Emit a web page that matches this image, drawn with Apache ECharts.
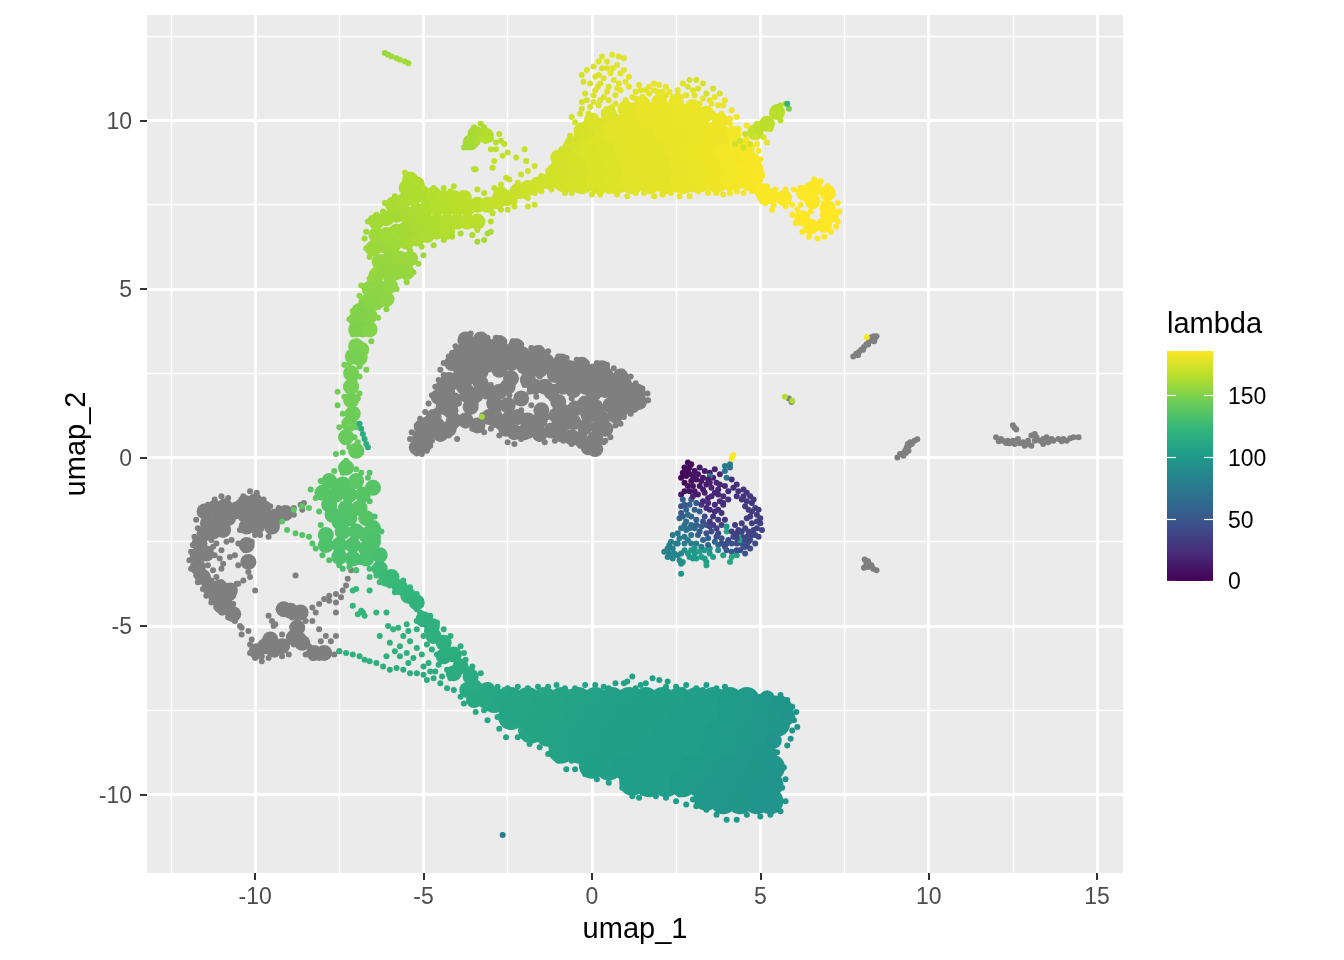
<!DOCTYPE html>
<html><head><meta charset="utf-8">
<style>html,body{margin:0;padding:0;background:#fff}#c{width:1344px;height:960px}</style>
<script src="https://cdn.jsdelivr.net/npm/echarts@6/dist/echarts.min.js"></script>
</head><body><div id="c"></div>
<script>
const xTicks=[-10,-5,0,5,10,15];
const yTicks=[-10,-5,0,5,10];
const xMinor=[-12.5,-7.5,-2.5,2.5,7.5,12.5];
const yMinor=[-7.5,-2.5,2.5,7.5,12.5];
const legendTicks=[0,50,100,150];
const legendRange=[186];
const viridis=['#440154','#482878','#3E4A89','#31688E','#26828E','#1F9E89','#35B779','#6DCD59','#B4DE2C','#FDE725'];

/* dense interiors: large marks */
const lambdaCore=[
[-2.9,-7.2,110],[-2.4,-7.2,109],[-1.9,-7.2,109],[-1.4,-7.2,108],[-.9,-7.2,108],[-.4,-7.2,107],[.1,-7.2,107],[.6,-7.2,106],[1.1,-7.2,106],[1.6,-7.2,105],[2.1,-7.2,105],[2.6,-7.2,105],[3.1,-7.2,104],[3.6,-7.2,103],[4.1,-7.2,102],[4.6,-7.2,101],[5.1,-7.4,100],[5.6,-7.5,98],
[-2.4,-7.7,109],[-1.9,-7.7,109],[-1.4,-7.7,108],[-.9,-7.7,108],[-.4,-7.7,107],[.1,-7.7,106],[.6,-7.7,106],[1.1,-7.7,105],[1.6,-7.7,105],[2.1,-7.7,105],[2.6,-7.7,104],[3.1,-7.7,104],[3.6,-7.7,103],[4.1,-7.7,102],[4.6,-7.7,101],[5.1,-7.8,100],[5.5,-7.9,98],
[-1.8,-8.1,108],[-1.3,-8.2,108],[-.8,-8.2,107],[-.3,-8.2,106],[.2,-8.2,106],[.7,-8.2,105],[1.2,-8.2,105],[1.7,-8.2,105],[2.2,-8.2,104],[2.7,-8.2,104],[3.2,-8.2,103],[3.7,-8.2,102],[4.2,-8.2,101],[4.7,-8.2,100],[5.1,-8.3,99],
[-.9,-8.7,107],[-.4,-8.7,106],[.1,-8.7,106],[.6,-8.7,105],[1.1,-8.7,105],[1.6,-8.7,104],[2.1,-8.7,104],[2.6,-8.7,103],[3.1,-8.7,103],[3.6,-8.7,102],[4.1,-8.7,101],[4.6,-8.7,100],[5.1,-8.8,98],
[0,-9.15,105],[.5,-9.2,105],[1,-9.2,104],[1.5,-9.2,104],[2,-9.2,103],[2.5,-9.2,103],[3,-9.2,102],[3.5,-9.2,101],[4,-9.2,100],[4.5,-9.2,99],[5,-9.2,98],[5.35,-9.2,97],
[1.2,-9.65,104],[1.7,-9.7,103],[2.2,-9.7,103],[2.7,-9.7,102],[3.2,-9.7,101],[3.7,-9.7,100],[4.2,-9.7,99],[4.7,-9.7,98],[5.3,-9.7,97],
[3.4,-10.1,100],[3.9,-10.2,99],[4.4,-10.2,98],[4.9,-10.2,97],[5.3,-10.2,96],
[-.8,8.25,174],[-.3,8.2,175],[.2,8.2,176],[.7,8.2,177],[1.2,8.2,178],[1.7,8.2,178],[2.2,8.2,179],[2.7,8.2,180],[3.2,8.25,181],[3.7,8.25,182],[4.2,8.3,183],[4.7,8.3,184],
[-.8,8.7,174],[-.3,8.7,175],[.2,8.7,176],[.7,8.7,177],[1.2,8.7,178],[1.7,8.7,179],[2.2,8.7,179],[2.7,8.7,180],[3.2,8.7,181],[3.7,8.7,182],[4.2,8.7,183],[4.65,8.7,184],
[-.5,9.15,175],[0,9.2,176],[.5,9.2,177],[1,9.2,178],[1.5,9.2,179],[2,9.2,179],[2.5,9.2,180],[3,9.2,181],[3.5,9.2,182],[4,9.2,183],[4.4,9.1,183],
[.2,9.7,177],[.7,9.7,178],[1.2,9.7,179],[1.7,9.7,179],[2.2,9.7,180],[2.7,9.7,180],[3.2,9.7,181],[3.7,9.6,182],
[1.2,10.1,179],[1.7,10.15,180],[2.2,10.15,180],[2.7,10.1,181],[3.1,10.05,181]
];

/* moderately dense patches: medium marks */
const lambdaMid=[
[-5.5,6.4,161],[-5.2,6.5,162],[-4.9,6.6,163],[-4.6,6.7,164],[-4.3,6.7,165],[-6.5,6.2,158],[-6.2,6.3,158],[-5.9,6.3,159],
[-6.4,6.6,159],[-6.1,6.6,160],[-5.8,6.7,160],[-5.5,6.8,161],[-5.2,6.9,162],[-4.9,7,163],[-4.6,7,164],[-4.3,7,165],[-4,7,166],[-3.7,7,167],[-3.4,7,167],
[-6.4,7,160],[-6.1,7.1,161],[-5.8,7.2,161],[-5.5,7.2,162],[-5.2,7.3,163],[-4.9,7.4,164],[-4.6,7.4,165],[-4.3,7.4,166],[-4,7.4,167],[-3.7,7.4,168],[-3.4,7.5,168],[-3.1,7.5,169],[-2.8,7.6,170],[-2.5,7.7,170],
[-5.9,7.5,162],[-5.6,7.6,163],[-5.3,7.7,164],[-5,7.8,164],[-4.7,7.8,165],[-4.4,7.7,166],[-4.1,7.7,167],[-3.8,7.7,168],[-2.2,7.9,171],[-1.9,8,172],[-1.6,8.1,173],[-1.3,8.2,173],[-2.7,7.8,170],
[-5.5,8,163],[-5.2,8.1,164],[-5.4,8.25,164],
[-6.3,5.8,157],[-6,5.9,157],[-5.7,5.9,158],[-5.4,5.9,158],[-6.4,5.4,155],[-6.1,5.5,156],[-5.8,5.5,156],[-5.5,5.5,157],
[-6.6,5,154],[-6.3,5,154],[-6,5.1,155],[-6.7,4.6,153],[-6.4,4.6,153],[-6.1,4.7,154],
[-7,4.1,151],[-6.8,4.1,151],[-6.6,4.2,152],[-7,3.8,150],[-6.8,3.8,150],[-6.6,3.8,151],[-6.9,4.35,151],
[-7,3.3,149],[-6.85,3.2,149],[-7.1,3,148],[-6.9,2.95,148],
[-7.15,2.5,147],[-7.15,2.1,147],[-7.15,1.7,146],[-7.1,1.3,145],
[-7.8,-.7,137],[-7.4,-.8,137],[-7,-.7,138],[-7.6,-1.1,136],[-7.2,-1.1,136],[-6.8,-1.1,137],[-7.8,-1.4,135],[-7.3,-1.5,135],[-6.9,-1.5,136],[-6.7,-1.8,136],
[-7.2,-1.8,135],[-7.7,-1.7,134],[-7.4,-2.2,134],[-7,-2.2,134],[-6.7,-2.3,134],[-7.9,-2.6,133],[-7.5,-2.6,133],[-7.1,-2.6,133],[-6.7,-2.7,133],[-7.5,-2.95,132],[-7.1,-3,132],[-6.7,-3,132],[-6.3,-2.9,131],
[-6.3,-3.3,128],[-5.95,-3.55,126],[-5.7,-3.85,124],[-6.1,-3.6,126],
[-5,-4.8,119],[-4.75,-5,118],[-4.7,-5.3,118],[-4.4,-5.5,117],[-4.1,-5.85,116],[-3.9,-6.2,115],[-3.6,-6.5,114],[-3.4,-6.9,113],[-3.7,-6.9,113],[-4.1,-6.4,115],[-4.4,-5.9,116],[-3.2,-7.2,112],[-3.5,-7.2,112],[-3.1,-6.9,112],
[7,7.4,186],[6.6,8,186],[7,7.85,186],[6.9,6.9,186],[6.5,6.85,186],[6.25,7.1,186],[6.55,7.6,186],[6.3,7.85,186],[7.1,7.2,186],
[-1.1,8.5,174],[-1,8.9,174],[1,10.35,179],[1.5,10.5,180],[2,10.55,180],[2.5,10.5,181],[3,10.4,181],[3.4,10.2,181],[3.8,10,182],[0,10,176],[-.3,9.7,175],[4.2,9.6,183],[.5,10.2,177],[4.6,9,184],[4.9,8.4,185],
[5.6,-7.3,98],[5.2,-7.15,99],[5.8,-7.7,97],[5.4,-8.4,97],
[5.3,7.75,185],[5.7,7.7,185],[5.05,7.9,185],
[4.85,9.65,170],[5.2,9.9,168],[5.5,10.25,166],
[-3.45,9.6,162],[-3.15,9.55,165],[-3.6,9.35,161],
[-7.3,-.3,139],[-7,.2,141],[-7.3,.6,143],[-7.2,1,144],[-6.5,-.9,136],[-8,-1.05,137],[-7.5,-1.9,134],[-7.9,-2.3,134],[-6.5,-2.1,134],[-6.5,-2.5,133],
[-5.45,-4.1,122],[-5.2,-4.3,121]
];

/* individual marks */
const lambdaDots=[
/* bottom mass edge */
[-3.4,-6.7,113],[-3.1,-6.75,112],[-2.8,-6.8,111],[-2.5,-6.85,110],[-2.2,-6.8,110],[-1.9,-6.85,110],[-1.6,-6.8,109],[-1.3,-6.8,109],[-1.05,-6.75,109],[-.8,-6.85,108],[-.5,-6.85,108],[-.2,-6.75,108],[.1,-6.75,107],[.35,-6.8,107],[.7,-6.7,106],[.95,-6.7,106],[1.2,-6.5,106],[1.05,-6.65,106],[1.45,-6.75,105],[1.8,-6.55,105],[2,-6.6,105],[2.25,-6.65,105],[2.5,-6.8,105],[2.8,-6.75,104],[3.1,-6.85,104],[3.4,-6.75,103],[3.7,-6.85,103],[3.95,-6.8,102],[4.2,-6.95,102],[4.5,-7,101],[4.8,-7.05,100],[5.2,-7,99],[5.6,-7.05,98],[5.8,-7.2,97],[5.95,-7.4,97],[6.07,-7.55,96],[6,-7.8,96],[6.1,-8,96],[5.95,-8.1,96],[5.9,-8.35,96],[5.8,-8.55,96],[5.5,-8.75,96],[5.7,-9.2,96],[5.75,-9.55,96],[5.65,-9.8,96],[5.75,-10.2,96],[5.6,-10.5,96],[5.3,-10.6,96],[5,-10.65,97],[4.6,-10.6,97],[4.3,-10.75,98],[4,-10.75,99],[3.7,-10.6,100],[3.4,-10.45,100],[3.1,-10.35,101],[2.8,-10.3,102],[2.5,-10.2,102],[2.2,-10.1,103],[1.9,-10.05,103],[1.5,-9.95,104],[1.2,-10.05,104],[1.4,-10.1,104],[.9,-9.8,105],[.5,-9.65,105],[.15,-9.55,105],[-.2,-9.4,106],[-.5,-9.25,106],[-.76,-9.25,107],[-1,-9,107],[-1.3,-8.8,108],[-1.55,-8.6,108],[-1.85,-8.5,108],[-2.2,-8.3,109],[-2.55,-8.3,109],[-2.75,-8.05,110],[-3.1,-7.8,110],[-3.45,-7.55,111],[-3.8,-7.3,112],
[-3.2,-7.5,111],[-2.8,-7.7,111],[-3.3,-7.1,112],[-3.6,-7.2,112],[-2.1,-8.1,110],[-1.5,-8.4,109],[-.6,-9,108],[.4,-9.4,106],[-2.4,-8,110],[-2.6,-7.9,110],[-1.9,-8.3,109],[-1.2,-8.6,108],[-.3,-9.1,107],[.9,-9.55,105],[1.8,-9.95,104],[2.6,-10,103],[3,-10.15,102],
[-3.3,-6.85,113],[-2.6,-6.9,111],[-2,-6.95,110],[-1.5,-6.92,109],[-.6,-6.95,108],[.5,-6.85,107],[1.3,-6.85,106],[1.6,-6.7,105],[2.2,-6.8,105],[2.7,-6.9,104],[3.3,-6.9,104],[3.8,-6.95,103],[4.4,-7.05,102],[5,-7.1,100],[5.45,-7.15,98],[5.9,-7.65,97],
/* lower left scatter */
[-7.5,-5.75,118],[-7.3,-5.8,118],[-7.1,-5.85,118],[-6.9,-5.9,117],[-6.75,-6,117],[-6.6,-6.05,117],[-6.4,-6.1,117],[-6.2,-6.2,117],[-6,-6.3,116],[-5.8,-6.25,116],[-5.6,-6.3,116],[-5.4,-6.4,116],[-5.2,-6.4,116],[-5,-6.45,115],[-4.9,-6.6,115],[-4.7,-6.55,115],[-4.5,-6.7,114],[-4.3,-6.85,114],[-4.1,-6.9,113],[-3.9,-7.1,113],
[-7.1,-3.95,124],[-7,-3.9,124],[-7.1,-4.4,122],[-6.85,-4.55,122],[-6.95,-4.65,122],[-6.8,-4.6,122],[-6.4,-4.6,121],[-6.75,-4.7,122],[-6.05,-5,120],[-5.9,-5.1,120],[-5.6,-5.3,119],[-5.2,-5.1,119],[-6.3,-5.3,120],[-6,-5.5,119],[-5.7,-5.6,118],[-5.4,-5.45,118],[-5.2,-5.65,118],[-5.5,-5.8,118],[-5,-5.3,118],[-4.9,-5.55,118],[-5.05,-5.85,117],[-4.85,-6.1,117],[-4.6,-5.85,116],[-4.75,-5.7,116],[-4.55,-6.15,116],[-4.3,-6.3,115],[-4.65,-6.35,115],[-3.8,-5.8,116],[-3.75,-6,115],[-3.9,-5.6,116],[-3.55,-6.2,114],[-3.3,-6.4,114],[-6.1,-4.6,121],[-5.2,-4.85,119],[-6.6,-3.95,123],[-5.2,-4.5,120],[-5.4,-4.25,121],[-5.6,-4.05,122],[-5.1,-4.6,120],[-4.8,-4.7,119],[-4.6,-4.9,119],[-4.4,-5.1,118],[-4.2,-5.3,117],
[-5.7,-5.9,117],[-5.3,-5.95,117],[-5,-6.2,116],[-5.45,-6.1,116],[-4.8,-6.35,115],[-4.45,-6.5,114],[-4.2,-6.55,114],[-5.85,-5.75,118],[-6.1,-5.9,118],[-4.35,-5.95,115],[-4.9,-5.15,118],[-5.45,-5.15,119],[-3.65,-6.3,114],[-5.75,-5.05,120],[-5.5,-4.95,120],
/* fan and stem */
[-8.85,-1.55,138],[-8.6,-1.45,138],[-8.4,-1.5,138],[-9.2,-1.9,137],[-9.05,-2.15,137],[-8.8,-2.25,137],[-8.6,-2.3,136],[-8.4,-2.35,136],[-8.3,-2.55,135],[-8.2,-1.2,138],[-8.35,-.95,138],[-8.05,-.7,138],[-8.1,-1.6,137],[-8.05,-2,136],[-8.2,-2.7,134],[-8,-2.9,134],[-7.8,-3.05,133],[-7.5,-3.2,132],[-7.2,-3.25,132],[-7,-3.35,132],[-7.4,-3.3,130],[-6.9,-3.1,131],[-6.6,-3.3,129],[-6.4,-3.5,128],[-6.6,-3.55,128],[-6.3,-3.7,127],[-6.2,-3.5,126],[-6,-3.8,125],[-5.85,-4,124],[-5.6,-3.65,124],[-5.4,-3.85,123],[-5.2,-4.05,122],[-6.45,-2.6,132],[-6.35,-2.35,132],[-6.25,-2.2,132],[-6.45,-1.95,134],[-6.45,-1.75,134],[-6.6,-1.3,135],[-6.85,-.45,138],[-6.65,-.6,137],[-6.6,-.45,137],[-6.6,-.95,136],[-7,-.35,139],[-7.4,-.45,139],[-7.65,-.4,139],[-7.3,-.1,140],[-7.1,.1,141],[-6.85,.15,140],[-7.2,.3,142],[-7.6,.1,141],[-7.05,.6,142],[-7.4,.6,143],[-6.95,.45,142],[-7.5,.9,144],[-7.3,.95,144],[-7,.9,144],[-7.35,2.75,148],[-7.2,2.8,148],[-7.05,2.3,147],[-7.3,2.1,147],[-6.9,2.7,148],[-6.75,3,149],[-6.7,2.6,148],[-6.9,2.4,147],[-7.4,.15,141],
/* arc outer */
[-6.75,6.5,159],[-6.7,6.7,159],[-6.65,7,160],[-6.55,7.1,160],[-6.4,7.2,160],[-6.2,7.3,161],[-6.15,7.55,162],[-6,7.6,162],[-5.85,7.75,162],[-5.55,8.45,165],[-5.4,8.3,165],[-5.2,8.15,165],[-5,8,165],[-4.7,8,166],[-4.4,8,166],[-4.1,8.05,166],[-4.2,7.9,167],[-3.7,7.8,167],[-3.4,7.95,168],[-3.2,7.85,168],[-2.9,8,169],[-2.7,7.95,169],[-6.7,6.2,159],[-6.6,5.95,159],[-6.45,5.55,158],[-6.6,5.3,157],[-6.85,5.1,156],[-6.9,4.8,155],[-7.1,4.35,152],[-7.2,4.1,151],[-7.1,3.65,150],[-6.55,3.45,150],[-6.6,3.9,151],[-6.35,4.15,153],[-6.1,4.4,153],[-5.95,4.7,154],[-5.8,5,155],[-5.5,5.2,156],[-5.3,5.5,157],[-5.15,5.75,158],[-5,6,158],[-5.4,6.15,159],[-5.05,6.25,160],[-4.7,6.3,161],[-4.4,6.45,162],[-4.15,6.55,163],[-3.9,6.65,163],[-3.55,6.6,163],[-3.4,6.4,161],[-3.2,6.45,160],[-3.1,6.65,161],[-3,6.7,162],[-3.4,6.75,165],[-3.5,6.95,166],[-3,7,167],[-2.95,7.25,168],[-2.7,7.35,168],[-2.5,7.35,169],[-2.55,7.55,170],[-2.3,7.6,171],[-2,7.75,172],[-1.7,7.85,172],[-1.5,7.9,173],[-1.2,7.95,173],[-1,8.1,174],
[-2.7,8.1,170],[-2.55,8.3,171],[-2.2,8.15,172],[-2.1,8.4,172],[-1.9,8.5,173],[-1.7,8.65,173],[-1.5,8.35,173],[-1.3,8.5,174],[-1.1,8.8,174],[-2.45,8.25,171],[-1.9,7.7,172],[-1.7,7.5,172],[-1.9,7.45,172],[-2.3,7.45,171],
/* isolated arc bits */
[-3.8,9.2,160],[-3.7,9.45,161],[-3.6,9.65,161],[-3.5,9.8,162],[-3.3,9.9,163],[-3.2,9.8,164],[-3.35,9.6,163],[-3.5,9.5,162],[-3.7,9.2,160],[-3.1,9.6,165],[-3,9.45,166],[-2.85,9.35,167],[-2.7,9.4,168],[-2.85,9.15,168],[-3.15,9.4,166],[-3.4,9.35,164],[-3,9.15,168],[-2.6,9.3,169],[-2.75,9.6,168],[-2.5,9.05,169],[-2.65,8.95,169],[-2.9,8.8,170],[-2.25,8.9,170],[-2,9.15,170],[-1.95,8.8,170],[-3.45,8.55,166],[-3.5,8.55,166],[-2.95,8.6,168],
[-6.15,12,158],[-6.05,11.95,158],[-5.95,11.9,159],[-5.8,11.85,159],[-5.7,11.8,160],[-5.55,11.75,160],[-5.45,11.7,160],
[-6.9,1,115],[-6.85,.85,115],[-6.8,.7,115],[-6.75,.55,115],[-6.7,.4,116],[-6.65,.3,116],[-7.2,1,146],[-7.4,1.3,145],[-7.55,1.55,145],[-7.35,1.8,146],[-6.95,1.75,146],[-6.9,1.9,146],[-7.55,1.95,147],
/* yellow upper scatter */
[-.9,9.15,172],[-.7,9.4,173],[-.45,9.45,173],[-.2,9.5,174],[-.45,9.75,174],[-.2,9.9,175],[0,10.1,175],[-.35,10.2,174],[-.05,10.4,175],[.05,10.55,175],[-.3,10.55,174],[-.2,10.8,175],[.1,10.9,176],[.25,11.1,176],[.1,11.3,176],[-.25,11.15,175],[-.3,11.35,175],[-.15,11.5,176],[.05,11.6,176],[.3,11.55,176],[.45,11.75,177],[.3,11.9,177],[.6,11.95,178],[.8,11.9,178],[.95,11.85,178],[.75,11.65,178],[.55,11.4,178],[.85,11.4,178],[1.1,11.3,179],[.8,11.1,178],[.5,11,177],[1.1,11,179],[.7,10.75,177],[.35,10.7,176],[1,10.6,178],[1.3,10.85,179],[1.45,10.9,179],[1.7,11,180],[1.85,11.1,180],[2,11.05,180],[2.2,11,180],[1.7,10.8,180],[1.5,10.7,179],[2,10.7,180],[2.4,10.7,180],[2.55,10.9,180],[2.7,11.1,176],[2.9,11.2,175],[3.1,11.2,174],[3.3,11.1,174],[3.6,10.95,174],[3.8,10.8,175],[3.4,10.8,175],[3,10.9,177],[2.8,10.75,179],[3.2,10.5,180],[3.55,10.5,181],[3.9,10.45,181],[4.15,10.3,182],[3.85,10.2,182],[3.6,10.2,181],[1.2,10.45,179],[.6,10.4,177],[.4,10.15,177],[.75,10.1,177],[-.5,9.95,174],[0,9.6,175],[-1.1,8.7,174],[-1.15,8.4,174],[-1.1,8.1,174],
[.2,11.75,177],[.45,11.55,177],[.65,11.2,178],[.95,11.5,178],[.2,11.35,176],[-.05,11.1,175],[.05,10.75,176],[.2,10.45,176],[.5,10.6,177],[.85,10.9,178],[.95,10.45,178],[1.2,10.7,179],[1.4,11.05,179],[1.6,10.9,179],[1.85,10.9,180],[2.1,10.85,180],[2.3,10.85,180],[2.65,10.7,180],[3.15,10.95,177],[3.3,10.65,179],[3.65,10.7,180],[3.95,10.6,181],[2.85,11,176],[-.45,9.6,174],[-.7,9.1,173],[-.65,9.55,173],[-.1,10.2,175],
[.35,11.25,177],[.62,11.55,178],[.18,11,176],[.75,10.95,178],[1,11.15,178],[.45,10.85,177],[.25,10.6,176],[-.15,10.6,175],[.7,10.5,177],[1.3,10.65,179],[1.95,10.85,180],[2.2,10.75,180],[2.55,10.75,180],[3.05,10.75,178],[3.5,10.6,180],[3.75,10.45,181],[4.3,10.1,182],[4.1,10.05,182],[-.3,10.35,175],[-.6,10.1,174],
/* lower right of yellow mass */
[4.1,9.9,182],[4.35,9.75,183],[4.6,9.45,184],[4.75,9.2,184],[4.95,9.1,185],[5,8.85,185],[4.9,9.3,184],[5,8.6,185],[5.05,8.35,185],[5.05,8,185],[5,7.7,183],[4.75,7.9,184],[4.5,7.85,184],[4.3,7.9,183],[4.1,7.85,183],[3.9,7.8,182],[3.7,7.85,182],[3.45,7.85,181],[3.15,7.9,181],[2.9,7.75,180],[2.6,7.75,180],[2.35,7.85,180],[2.1,7.8,179],[1.85,7.75,179],[1.55,7.85,178],[1.3,7.85,178],[1.05,7.75,177],[.75,7.8,177],[.5,7.9,176],[.25,7.8,176],[0,7.8,175],[-.3,7.9,175],[-.6,7.85,174],[-.8,7.85,174],[1.4,8.1,178],[3,7.95,180],[4.05,8,183],[4.6,8,184],[.1,7.95,175],[.9,7.95,177],[1.8,7.95,179],[2.5,7.95,180],[3.6,8,182],
/* right arm */
[4.25,9.3,172],[4.4,9.4,172],[4.55,9.6,170],[4.75,9.75,170],[4.9,9.9,170],[5,9.65,168],[5.15,9.95,168],[5.3,10,168],[5.35,10.2,167],[5.5,10.3,166],[5.6,10.45,165],[5.75,10.5,166],[5.55,10.15,167],[5.3,9.75,170],[5.1,9.5,176],[4.85,9.5,172],[4.7,9.3,175],[4.5,9.2,172],[5.2,9.35,178],[5.6,10,168],[5.85,10.35,150],[5.8,10.5,120],[4.9,9.75,168],[4.6,9.85,182],
/* right extension and ring */
[5,7.9,185],[5.2,8.05,185],[5.3,7.75,185],[5.45,7.95,185],[5.55,7.65,185],[5.75,7.95,185],[5.85,7.7,185],[5.95,7.5,186],[5.4,7.5,185],[5.15,7.55,185],[5.75,7.45,186],[5.35,7.35,185],[5.05,7.6,185],[6,7.95,186],[6.2,8,186],[6.4,8.05,186],[6.6,8.25,186],[6.8,8.2,186],[7,8.05,186],[7.15,7.8,186],[7.3,7.55,186],[7.35,7.3,186],[7.3,7,186],[7.25,6.85,186],[7.1,6.7,186],[6.9,6.55,186],[6.7,6.5,186],[6.45,6.55,186],[6.25,6.7,186],[6.05,6.95,186],[5.95,7.2,186],[6.1,7.35,186],[6.2,7.5,186],[6.5,7.3,186],[6.85,7.2,186],[6.9,7.55,186],
/* isolated */
[-2.65,-11.2,78],[8.16,3.57,185],[5.73,1.8,165],[5.95,1.68,165],[-3.27,1.21,160],
/* small ring cluster */
[2.85,-.15,5],[2.75,-.3,5],[2.7,-.45,4],[2.65,-.6,3],[2.75,-.75,4],[2.9,-.5,6],[3.05,-.4,8],[3.2,-.3,12],[3.35,-.4,12],[3.5,-.45,15],[3.65,-.35,18],[3.8,-.5,20],[3.6,-.6,16],[3.3,-.6,14],[3.1,-.65,10],[2.85,-.85,8],[2.9,-1,8],[2.75,-1,8],[2.65,-1.1,12],[3,-.85,10],[3.2,-.85,12],[3.4,-.8,14],[3.15,-1.1,14],[3.35,-1.05,16],[3.55,-.9,18],[3.65,-1.05,20],[3.8,-.8,20],[3.95,-.85,22],[3.7,-.75,20],[4,-.6,70],[3.95,-.4,70],[4.1,-.3,72],[4.15,-.65,24],
[4.2,-.9,25],[4.35,-1,26],[4.5,-.95,28],[4.6,-1.05,28],[4.7,-1.15,30],[4.75,-1.35,30],[4.6,-1.3,30],[4.45,-1.25,28],[4.65,-1.55,32],[4.85,-1.5,32],[4.9,-1.7,32],[4.9,-1.9,34],[5,-1.95,36],[5.05,-2.15,36],[4.9,-2.1,34],[4.75,-1.95,34],[4.6,-1.8,32],[4.45,-1.95,34],[4.55,-2.1,36],[4.75,-2.3,36],[4.95,-2.35,38],[4.85,-2.55,40],[4.65,-2.5,40],[4.7,-2.7,42],[4.55,-2.65,40],[4.4,-2.75,44],[4.3,-2.55,40],[4.15,-2.55,46],[3.95,-2.65,44],[4.15,-2.8,50],[4.45,-2.35,36],[4.35,-2.15,34],[4.25,-2,32],
[3.8,-1.3,22],[3.65,-1.4,22],[3.45,-1.2,18],[3.75,-1.55,24],[3.9,-1.4,28],[3.5,-1.55,24],[3.6,-1.75,26],[3.75,-1.85,30],[3.85,-2,32],[3.6,-2,34],[3.55,-2.2,42],[3.4,-2,46],[3.35,-1.75,42],[3.2,-1.6,56],[3.1,-1.85,54],[3.25,-2.05,55],[3.15,-2.3,56],[3.3,-2.45,62],[3.45,-2.4,56],[3.65,-2.5,60],[3.85,-2.4,46],[4,-2.2,110],[4,-2.05,100],
[2.7,-1.25,55],[2.65,-1.45,45],[2.8,-1.55,60],[2.65,-1.65,50],[2.6,-1.8,60],[2.8,-1.9,66],[2.95,-1.75,62],[2.95,-2,64],[2.8,-2.15,70],[2.65,-2.1,72],[2.55,-2.25,74],[2.4,-2.3,76],[2.75,-2.35,74],[2.95,-2.3,72],[3.1,-2.55,80],[2.95,-2.55,78],[2.75,-2.55,78],[2.5,-2.55,80],[2.4,-2.7,80],[2.25,-2.7,80],[2.15,-2.8,84],[2.25,-2.95,84],[2.4,-3,84],[2.55,-2.9,84],[2.35,-2.5,80],[2.6,-3.05,90],[2.65,-2.85,86],
[2.7,-3.1,100],[2.85,-2.85,100],[2.95,-2.75,100],[3,-3,102],[3.1,-3,102],[3.2,-2.8,104],[3.35,-3,104],[3.35,-2.75,100],[3.5,-2.7,96],[3.6,-2.95,104],[3.4,-3.1,104],[2.65,-3.15,90],[3.4,-3.2,108],[3.75,-2.75,90],[2.65,-3.45,95],[3.9,-2.9,108],[4.1,-3.1,110],[4.15,-2.95,112],[4.3,-2.9,106],[4.35,-2.3,112],[4.45,-2.55,50],[4.3,-2.75,46],[4.55,-2.85,50],[4.4,-2.45,108],[4.5,-2.65,46],[3.9,-1.35,24],[3.5,-.55,70],[2.95,-.2,6],[2.95,-1.25,55],[3.1,-1.35,52],[3.25,-1.4,30],[3.45,-1.35,22],[4.1,-.2,76],[3.95,-.25,76],[4.15,-.03,186],[4.2,.07,186],
[2.85,-.4,4],[2.95,-.7,6],[3.15,-.5,10],[3.45,-.65,14],[3.75,-.95,20],[4.05,-1,24],[4.3,-.8,26],[4.5,-1.15,28],[4.75,-1.6,32],[4.7,-1.75,32],[4.8,-2.15,36],[4.6,-2.35,38],[4.45,-2.2,36],[4.2,-2.35,38],[4.05,-2.45,40],[3.75,-2.25,36],[3.95,-1.85,30],[3.5,-1.9,32],[3.3,-1.3,22],[3.55,-1.15,20],[3.4,-2.25,50],[3.05,-2.1,62],[2.85,-1.7,64],[2.75,-1.4,52],[2.55,-2.55,78],[2.3,-2.85,82],[2.85,-2.45,76],[3.05,-2.85,100],[3.25,-2.95,104],[3.5,-2.85,100],[3.75,-2.6,64],[4,-2.75,50],[4.3,-2.4,38],[4.6,-2.6,42],[3.2,-2.2,54],[3.5,-2.05,38],[3.65,-1.6,24],[3.9,-1.15,24],[4.05,-1.25,26],[3,-1.15,18],
[2.8,-.55,4],[3,-.55,8],[3.25,-.7,12],[3.5,-.75,16],[4.3,-1.15,26],[4.55,-1.45,30],[4.8,-1.25,30],[4.95,-1.55,32],[5,-1.8,34],[4.85,-2.3,38],[4.7,-2.45,40],[4.55,-2.45,40],[4.3,-2.25,34],[4.15,-2.2,34],[4,-2.55,44],[3.85,-2.55,44],[3.7,-2.35,42],[3.45,-2.6,60],[3.25,-2.65,80],[3.05,-2.7,96],[2.9,-2.95,100],[2.75,-2.75,90],[2.45,-2.85,84],[2.3,-2.6,80],[2.6,-2.4,76],[2.9,-2.1,68],[3.1,-2,58],[2.75,-2,68],[2.7,-1.75,56],[2.9,-1.4,56],[3.05,-1.55,58],[3.3,-1.9,46],[3.7,-2.1,36],[3.85,-1.65,26],[3.4,-1.5,24],[4.65,-2.2,36],[3.75,-1.1,20],[3.05,-1,12],[3.3,-.95,14],[2.9,-.3,5]
];

const greyCore=[
[-4.9,.7],[-5,.35],[-4.7,1.2],[-4.55,1.8],[-4.25,2.3],[-4.15,2.8],[-3.75,3.25],[-3.45,3.3],[-3.1,3.3],[-2.75,3.2],[-2.4,3.15],[-2.05,3.05],[-1.7,2.95],[-1.35,2.85],[-1,2.75],[-.65,2.65],[-.3,2.6],[.05,2.55],[.4,2.45],[.75,2.25],[1.1,2],[1.35,1.8],
[-3.9,2.65],[-3.5,2.75],[-3.1,2.75],[-2.75,2.6],[-3.3,2.2],[-3.8,2.1],[-2.5,2.1],[-1.9,2.3],[-1.4,2.1],[-.85,2.1],[-.2,2.1],[.4,2],[.9,1.65],
[-4.1,1.7],[-3.6,1.5],[-2.9,1.6],[-2.5,1.55],[-2.7,1.05],[-2.3,.75],[-1.9,1.1],[-1.2,.8],[-1.5,1.4],[-.85,1],[-.6,.6],[-.2,.9],[.1,.55],[.4,.85],[.1,1.5],[-.5,1.45],[.7,1.25],[-1,1.65],[-3.4,.95],[-4.5,.7],
[-5.1,.6],[-5.05,.9],[-4.85,1],[-4.4,1.5],[-4.3,1.95],[-3.95,2.35],[-3.6,2.4],[-3.3,2.55],[-2.9,2.95],[-3.5,3],[-2.4,2.8],[-2,2.7],[-1.55,2.6],[-1.1,2.45],[-.6,2.3],[-.15,2.35],[.25,2.2],[.65,1.95],[1.2,1.55],[.95,1.95],[-2.1,1.75],[-2.75,1.95],[-3.1,1.95],[-3.45,1.85],[-2.2,1.2],[-2.55,.85],[-1.7,.85],[-.95,.7],[-.35,.55],[-.1,1.25],[.3,1.15],[.55,1.55],[-.85,1.35],[-1.2,1.95],[-3.75,1.1],[-4.1,1.1],[-4.25,.85],[-3.05,1.2],[-.1,.3],[.1,.25],
[-4,3],[-3.7,3],[-3.25,3],[-2.6,2.9],[-2.2,2.85],[-1.85,2.7],[-1.2,2.65],[-.8,2.45],[.2,2.4],[.6,2.15],[.95,2.2],[1.35,1.95],[-4.4,2.1],[-4.2,1.4],[-3.7,1.85],[-2.4,2.35],[-1.7,2.1],[-.55,2],[.05,1.9],[.85,1.4],[-.2,1.6],[-2.9,1.25],[-2.45,1.15],[-1.55,1.1],[-1.05,1.25],[-.55,1.05],[.2,.9],[-1.55,.7],[-2,.75],[-3.75,3.5],[-3.3,3.5],[-2.75,3.4],[-2.25,3.3],[-1.6,3.1],[-.9,2.85],[-.3,2.75],[.3,2.65],[.85,2.4],[1.4,1.65],[-4.6,.95],[-5.2,.3],
[-11.5,-1.6],[-11.2,-1.5],[-10.9,-1.45],[-11.4,-1.95],[-11.1,-1.85],[-10.8,-1.8],[-11.5,-2.25],[-11.25,-2.2],[-10.95,-2.15],[-10.3,-1.35],[-10,-1.3],[-9.75,-1.5],[-10.3,-1.7],[-10,-1.7],[-9.7,-1.8],[-10.25,-2.05],[-9.95,-2.05],[-9.4,-1.75],[-9.1,-1.65],
[-11.65,-2.55],[-11.7,-2.9],[-11.7,-3.25],[-11.55,-3.55],[-11.35,-3.85],[-11.15,-4.15],[-10.9,-4.35],[-11.05,-3.85],[-10.8,-4.05],[-11.45,-2.85],[-10.65,-4.65],[-9.95,-5.75],[-9.7,-5.6],[-9.45,-5.7],[-9.55,-5.4],[-9.2,-5.6],[-8.85,-5.35],[-8.6,-5.5],[-8.95,-4.55],[-8.65,-4.6],[-9.15,-4.5],[-8.75,-5.05],[-8.25,-5.8],[-7.95,-5.8],
[-10.6,-1.6],[-10.25,-2.6],[-10.2,-3.1],[-10.75,-3.95],[-11,-4.4],[-9.5,-2.05]
];
const greyDots=[
/* big cluster outline and interior */
[-5.35,.75],[-5.4,.55],[-5.3,.3],[-5.2,.12],[-5.05,.1],[-4.9,.2],[-4.8,.35],[-4.75,.5],[-5.2,.95],[-5.1,1.15],[-4.95,1.35],[-4.85,1.6],[-4.75,1.85],[-4.65,2.1],[-4.55,2.3],[-4.5,2.6],[-4.4,2.8],[-4.25,3],[-4.15,3.1],[-4.05,3.3],[-3.9,3.45],[-3.7,3.55],[-3.6,3.68],[-3.35,3.6],[-3.1,3.55],[-2.85,3.55],[-2.6,3.45],[-2.35,3.45],[-2.1,3.35],[-1.8,3.25],[-1.55,3.25],[-1.3,3.15],[-1,3],[-.75,2.95],[-.45,2.9],[-.15,2.8],[.15,2.8],[.45,2.75],[.65,2.65],[.9,2.55],[1.15,2.4],[1.3,2.2],[1.5,2.05],[1.65,1.9],[1.67,1.7],[1.5,1.55],[1.25,1.55],[1.15,1.3],[.95,1.2],[.85,1],[.7,.95],[.55,.6],[.35,.45],[.2,.3],[0,.15],[-.15,.25],[-.35,.35],[-.6,.4],[-.85,.5],[-1.1,.5],[-1.4,.45],[-1.55,.55],[-1.85,.65],[-2.1,.55],[-2.3,.4],[-2.5,.45],[-2.75,.65],[-3,.85],[-3.2,.75],[-3.55,.85],[-3.75,.95],[-4,.55],[-4.25,.65],[-4.4,.6],
[-4.3,1.3],[-4.1,1.25],[-3.95,1.05],[-4.05,.95],[-4.5,1.05],[-4.6,1.4],[-4.35,1.85],[-4.1,2.1],[-3.6,2.05],[-3.95,1.6],[-3.65,1.15],[-3.45,1.6],[-3.2,1.85],[-3,2.15],[-2.85,1.85],[-3.25,1.25],[-3,1.1],[-2.95,.95],[-3.3,.9],[-2.75,1.45],[-2.45,1.85],[-2.3,2.4],[-2.1,2.6],[-2.15,1.7],[-2.1,1.4],[-1.8,1.55],[-1.65,1.8],[-1.85,1.95],[-1.55,2.4],[-1.15,2.45],[-1.1,2.1],[-1.2,1.75],[-.9,1.4],[-.7,1.25],[-.6,1.75],[-.4,2.35],[.1,2.15],[.15,1.8],[.35,1.45],[.55,1.65],[.8,1.95],[1.1,1.75],[1.2,1.95],[-.05,1.2],[-.3,.65],[.4,.5],[-.9,.65],[-1.6,.85],[-1.75,1.15],[-2.05,.85],[-2.6,.8],[-3.65,2.45],[-3.45,2.4],[-2.55,2.5],[-1.6,2.65],[-.7,2.4],[.5,2.3],[-4.4,2.45],[-2,2.15],[-1.3,1.2],[-1.1,1.05],
/* left loop */
[-11.6,-1.6],[-11.4,-1.4],[-11.2,-1.25],[-11,-1.15],[-10.8,-1.2],[-10.6,-1.4],[-10.5,-1.35],[-10.35,-1.15],[-10.15,-1],[-9.95,-1.05],[-9.75,-1.25],[-9.55,-1.45],[-9.3,-1.5],[-9.05,-1.55],[-8.85,-1.5],[-8.65,-1.4],[-8.55,-1.35],[-8.6,-1.55],[-8.85,-1.7],[-9.1,-1.75],[-9.3,-1.9],[-9.4,-2.1],[-9.55,-2.2],[-9.6,-2.35],[-9.85,-2.3],[-10,-2.3],[-10.1,-2.5],[-10.25,-2.55],[-10.3,-2.75],[-10.25,-3],[-10.25,-3.2],[-10.2,-3.4],[-10.15,-3.55],[-10.35,-3.65],[-10.55,-3.75],[-10.75,-3.85],[-10.65,-4.1],[-10.65,-4.35],[-10.7,-4.55],[-10.95,-4.6],[-10.8,-4.75],[-10.6,-4.85],[-10.45,-5],[-10.4,-5.05],[-10.4,-5.25],[-10.2,-5.15],[-10.1,-5.4],
[-11.75,-1.85],[-11.7,-2.1],[-11.8,-2.35],[-11.85,-2.6],[-11.9,-2.8],[-11.95,-3.05],[-11.9,-3.3],[-11.75,-3.5],[-11.7,-3.7],[-11.55,-3.9],[-11.45,-4.1],[-11.3,-4.3],[-11.15,-4.45],[-11,-4.6],[-11.5,-3.7],[-11.3,-3.85],[-11.1,-3.95],[-10.9,-4.05],[-11.2,-4.2],[-10.95,-4.3],[-11.3,-3.65],[-11.15,-3.55],[-11,-3.7],[-11.5,-2.4],[-11.3,-2.45],[-11.15,-2.55],[-11,-2.75],[-11.05,-3],[-10.95,-3.15],[-10.6,-2.9],[-10.5,-3.2],[-11,-3.3],[-10.7,-2.45],[-11.4,-3.2],[-11.25,-2.65],[-10.5,-3.75],[-11.2,-2.9],[-10.85,-2.5],[-10.5,-2.55],[-10.75,-2.95],[-11.25,-3.35],[-10.45,-2.15],
[-9.3,-4.5],[-9.15,-4.55],[-9,-4.6],[-8.85,-4.55],[-8.7,-4.6],[-8.55,-4.6],[-9.1,-4.45],[-8.9,-4.75],[-8.75,-4.85],[-8.65,-5],[-8.5,-4.85],[-8.3,-4.45],[-8.1,-4.35],[-7.95,-4.2],[-7.8,-4.1],[-7.6,-4.05],[-7.45,-4.15],[-7.4,-3.95],[-7.3,-3.8],[-7.25,-3.6],[-7.15,-3.35],[-7,-3.35],[-7.6,-4.3],[-7.8,-4.25],[-8.2,-4.6],[-8.3,-4.85],[-8.1,-5.1],[-7.9,-5.3],[-7.75,-5.45],[-7.6,-5.3],[-8.05,-5.45],[-8.8,-3.5],[-10,-3.95],[-9.6,-4.7],[-9.5,-4.85],[-9.45,-5],[-9.4,-4.95],[-7.6,-4.6],
[-10.15,-5.55],[-9.95,-5.65],[-9.7,-5.4],[-9.5,-5.3],[-9.4,-5.55],[-9.2,-5.25],[-9.55,-5.7],[-9.8,-5.9],[-10,-5.95],[-10.15,-5.8],[-9.8,-6.05],[-9.6,-5.95],[-9.4,-5.85],[-9.2,-5.9],[-9,-5.85],[-8.95,-5.35],[-8.85,-5.55],[-8.8,-5.1],[-8.6,-5.3],[-8.5,-5.45],[-8.4,-5.6],[-8.6,-5.6],[-8.3,-5.75],[-8.1,-5.75],[-8,-5.9],[-7.85,-5.75],[-7.65,-5.85],[-7.5,-5.75],[-8.5,-5.85],[-8.3,-5.95],[-8.1,-5.95],[-7.95,-5.7],
/* small clusters */
[7.76,3],[7.85,3.08],[7.93,3.13],[8,3.2],[8.08,3.28],[8.15,3.35],[8.22,3.42],[8.3,3.48],[8.4,3.52],[8.45,3.6],[8.37,3.6],[8.3,3.57],[7.9,3.03],[8.05,3.2],[8.2,3.35],[8.38,3.45],
[5.85,1.75],[5.93,1.65],
[9.07,0],[9.15,.1],[9.23,.12],[9.3,.2],[9.35,.3],[9.42,.35],[9.5,.4],[9.58,.5],[9.66,.54],[9.4,.2],[9.32,.13],[9.45,.45],[9.25,.05],[9.38,.4],
[12,.6],[12.08,.48],[12.2,.5],[12.3,.43],[12.4,.42],[12.55,.4],[12.7,.42],[12.85,.35],[12.95,.5],[13.05,.65],[13.15,.5],[13.3,.5],[13.4,.55],[13.55,.45],[13.7,.5],[13.85,.55],[14,.55],[14.2,.57],[14.3,.6],[14.45,.6],[12.5,.96],[12.6,.83],[12.95,.4],[13.15,.7],[13.05,.35],[13.4,.4],[12.15,.55],[12.35,.5],[12.5,.5],[12.65,.55],[12.8,.45],[13.2,.6],[13.5,.6],[13.65,.55],[13.95,.48],[14.1,.5],[12.55,.88],
[8.1,-3.03],[8.2,-3.08],[8.25,-3.18],[8.08,-3.27],[8.2,-3.25],[8.35,-3.3],[8.45,-3.35],[8.3,-3.2],[8.15,-3.15],
[1,8.05],[1.03,8.1]
];

const chart=echarts.init(document.getElementById('c'));
const font='"Liberation Sans"';
const hide={show:false};
const noLine={show:false,onZero:false};
chart.setOption({
  animation:false,backgroundColor:'#fff',
  title:{text:'lambda',left:1167,top:310,padding:0,textStyle:{fontFamily:font,fontSize:29,fontWeight:'normal',color:'#000'}},
  grid:[
    {left:147,top:15,width:976,height:858,show:true,backgroundColor:'#EBEBEB',borderWidth:0},
    {left:1167,top:351,width:46,height:230,show:false}
  ],
  xAxis:[
    {type:'value',gridIndex:0,min:-13.21,max:15.77,name:'umap_1',nameLocation:'middle',nameGap:42,nameMoveOverlap:false,
     nameTextStyle:{fontFamily:font,fontSize:29,color:'#000'},
     axisLine:noLine,axisTick:{show:true,length:7,lineStyle:{color:'#333',width:2},customValues:xTicks},
     axisLabel:{fontFamily:font,fontSize:23,color:'#4D4D4D',margin:13,customValues:xTicks},
     splitLine:{show:true,lineStyle:{color:'#fff',width:2.8}}},
    {type:'value',gridIndex:0,min:-13.21,max:15.77,axisLine:noLine,axisLabel:hide,
     axisTick:{show:false,customValues:xMinor},splitLine:{show:true,lineStyle:{color:'#fff',width:1.4}}},
    {type:'category',gridIndex:1,data:['lambda'],show:false}
  ],
  yAxis:[
    {type:'value',gridIndex:0,min:-12.33,max:13.13,name:'umap_2',nameLocation:'middle',nameGap:56,nameRotate:90,nameMoveOverlap:false,
     nameTextStyle:{fontFamily:font,fontSize:29,color:'#000'},
     axisLine:noLine,axisTick:{show:true,length:7,lineStyle:{color:'#333',width:2},customValues:yTicks},
     axisLabel:{fontFamily:font,fontSize:23,color:'#4D4D4D',margin:15,verticalAlign:'top',lineHeight:4,customValues:yTicks},
     splitLine:{show:true,lineStyle:{color:'#fff',width:2.8}}},
    {type:'value',gridIndex:0,min:-12.33,max:13.13,axisLine:noLine,axisLabel:hide,
     axisTick:{show:false,customValues:yMinor},splitLine:{show:true,lineStyle:{color:'#fff',width:1.4}}},
    {type:'value',gridIndex:1,min:0,max:186,position:'right',z:10,axisLine:noLine,splitLine:hide,
     axisTick:{show:true,inside:true,length:9,lineStyle:{color:'#fff',width:1.2},customValues:legendTicks},
     axisLabel:{fontFamily:font,fontSize:23,color:'#000',margin:15,verticalAlign:'top',lineHeight:4,customValues:legendTicks}},
    {type:'value',gridIndex:1,min:0,max:186,position:'left',z:10,axisLine:noLine,splitLine:hide,axisLabel:hide,
     axisTick:{show:true,inside:true,length:9,lineStyle:{color:'#fff',width:1.2},customValues:legendTicks}}
  ],
  visualMap:{type:'continuous',min:0,max:186,dimension:2,seriesIndex:[2,3,4],show:false,inRange:{color:viridis}},
  series:[
    {type:'scatter',name:'greyCore',data:greyCore,symbolSize:16,itemStyle:{color:'#7F7F7F',opacity:1},silent:true,z:2},
    {type:'scatter',name:'greyDots',data:greyDots,symbolSize:6,itemStyle:{color:'#7F7F7F',opacity:1},silent:true,z:3},
    {type:'scatter',name:'lambdaCore',data:lambdaCore,symbolSize:26,itemStyle:{opacity:1},silent:true,z:4},
    {type:'scatter',name:'lambdaMid',data:lambdaMid,symbolSize:16,itemStyle:{opacity:1},silent:true,z:5},
    {type:'scatter',name:'lambdaDots',data:lambdaDots,symbolSize:6,itemStyle:{opacity:1},silent:true,z:6},
    {type:'bar',name:'legendBar',xAxisIndex:2,yAxisIndex:2,data:legendRange,barWidth:46,silent:true,z:2,
     itemStyle:{color:new echarts.graphic.LinearGradient(0,1,0,0,viridis.map((c,i)=>({offset:i/(viridis.length-1),color:c})))}}
  ]
});
</script></body></html>
